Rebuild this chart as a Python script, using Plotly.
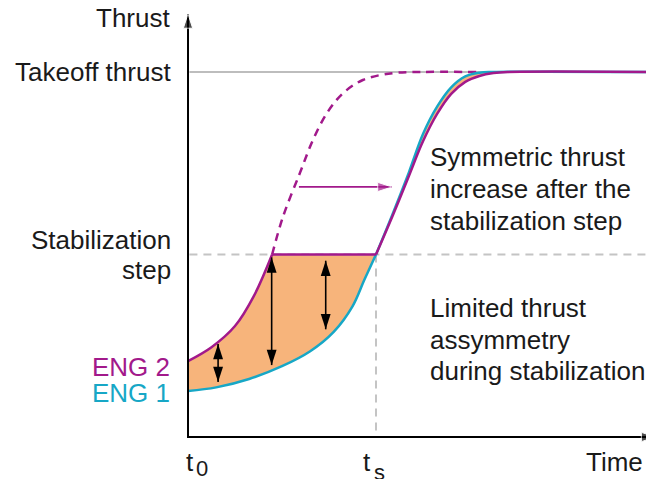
import plotly.graph_objects as go

# time axis: t0 = 0, ts = 4 ; thrust axis: takeoff = 100 %
T_S = 4.0
T_END = 9.9
TAKEOFF = 100
STAB = 50

# ENG 2 (magenta) up to the stabilization step
eng2_low_t = [0.0, 0.5, 1.0, 1.4, 1.79]
eng2_low_y = [20.8, 24.6, 30.4, 38.6, 50.0]
# ENG 1 (cyan) up to ts
eng1_low_t = [0.0, 0.6, 1.3, 2.0, 2.6, 3.1, 3.5, 3.75, 4.0]
eng1_low_y = [12.6, 13.6, 15.9, 19.4, 23.5, 28.8, 35.8, 43.0, 50.0]
# after ts
eng1_up_t = [4.0, 4.35, 4.7, 5.0, 5.3, 5.6, 5.9, 6.2, 6.5, 9.9]
eng1_up_y = [50.0, 61.0, 72.5, 83.0, 90.5, 95.8, 98.8, 99.8, 100.0, 100.0]
eng2_up_t = [4.0, 4.35, 4.7, 5.0, 5.3, 5.6, 5.9, 6.2, 6.5, 6.8, 9.9]
eng2_up_y = [50.0, 60.5, 71.5, 81.0, 88.5, 94.0, 97.3, 98.9, 99.7, 100.0, 100.0]
# ENG 2 without stabilization step (dashed)
nostab_t = [1.79, 2.02, 2.38, 2.66, 2.96, 3.3, 3.72, 4.36, 4.94, 6.2]
nostab_y = [50.0, 60.3, 72.3, 81.4, 88.8, 94.2, 97.8, 99.7, 100.0, 100.0]

# double arrows: time, top, bottom
gap_t = [0.64, 1.78, 2.93]
gap_top = [25.5, 49.2, 48.3]
gap_bottom = [15.1, 19.7, 29.5]

# shift arrow
shift_t = [2.36, 4.34]
shift_y = 68.5

MAGENTA = "#a2198b"
CYAN = "#17a7c6"
ORANGE = "#f7b47b"
GREY = "#c4c4c4"
FONT = "Liberation Sans, Arial, sans-serif"

fig = go.Figure()

# fills
fig.add_trace(go.Scatter(x=eng1_low_t, y=eng1_low_y, mode="lines",
                         line={"width": 0, "shape": "spline"}, hoverinfo="skip"))
fig.add_trace(go.Scatter(x=eng2_low_t, y=eng2_low_y, mode="lines", fill="tonexty",
                         fillcolor=ORANGE, line={"width": 0, "shape": "spline"},
                         hoverinfo="skip"))
fig.add_trace(go.Scatter(x=eng2_up_t, y=eng2_up_y, mode="lines",
                         line={"width": 0, "shape": "spline"}, hoverinfo="skip"))
fig.add_trace(go.Scatter(x=eng1_up_t, y=eng1_up_y, mode="lines", fill="tonexty",
                         fillcolor=ORANGE, line={"width": 0, "shape": "spline"},
                         hoverinfo="skip"))

# guide lines
fig.add_trace(go.Scatter(x=[0.03, T_END], y=[TAKEOFF, TAKEOFF], mode="lines",
                         line={"color": "#bdbdbd", "width": 2}))
fig.add_trace(go.Scatter(x=[0.03, T_END], y=[STAB, STAB], mode="lines",
                         line={"color": GREY, "width": 2, "dash": "8px,6px"}))
fig.add_trace(go.Scatter(x=[T_S, T_S], y=[STAB, 0], mode="lines",
                         line={"color": GREY, "width": 2, "dash": "8px,6px"}))

# dashed ENG 2 without step
fig.add_trace(go.Scatter(x=nostab_t, y=nostab_y, mode="lines",
                         line={"color": MAGENTA, "width": 2.5, "dash": "8px,6px",
                               "shape": "spline"}))

# curves
fig.add_trace(go.Scatter(x=eng1_low_t, y=eng1_low_y, mode="lines",
                         line={"color": CYAN, "width": 2.5, "shape": "spline"}))
fig.add_trace(go.Scatter(x=eng1_up_t, y=eng1_up_y, mode="lines",
                         line={"color": CYAN, "width": 2.5, "shape": "spline"}))
fig.add_trace(go.Scatter(x=eng2_low_t, y=eng2_low_y, mode="lines",
                         line={"color": MAGENTA, "width": 2.5, "shape": "spline"}))
fig.add_trace(go.Scatter(x=[eng2_low_t[-1], T_S], y=[STAB, STAB], mode="lines",
                         line={"color": MAGENTA, "width": 2.5}))
fig.add_trace(go.Scatter(x=eng2_up_t, y=eng2_up_y, mode="lines",
                         line={"color": MAGENTA, "width": 2.5, "shape": "spline"}))

# double arrows
for t, top, bottom in zip(gap_t, gap_top, gap_bottom):
    fig.add_trace(go.Scatter(
        x=[t, t], y=[bottom, top], mode="lines+markers",
        line={"color": "black", "width": 1.6},
        marker={"symbol": "arrow", "size": 16, "angle": [180, 0], "color": "black"},
    ))

# shift arrow
fig.add_trace(go.Scatter(
    x=shift_t, y=[shift_y, shift_y], mode="lines+markers",
    line={"color": MAGENTA, "width": 1.8},
    marker={"symbol": "arrow", "size": [0, 15], "angle": [90, 90], "color": MAGENTA},
))

# axes
fig.add_trace(go.Scatter(
    x=[0, 0], y=[-0.3, 115.9], mode="lines+markers",
    line={"color": "black", "width": 2},
    marker={"symbol": "arrow", "size": [0, 15], "angle": [0, 0], "color": "black"},
))
fig.add_trace(go.Scatter(
    x=[-0.02, 9.95], y=[0, 0], mode="lines+markers",
    line={"color": "black", "width": 2},
    marker={"symbol": "arrow", "size": [0, 15], "angle": [90, 90], "color": "black"},
))

txt = {"family": FONT, "size": 26, "color": "#1a1a1a"}
sub = {"family": FONT, "size": 22, "color": "#1a1a1a"}
notes = [
    ("Thrust", -0.34, 114.8, "right", txt),
    ("Takeoff thrust", -0.32, TAKEOFF, "right", txt),
    ("Stabilization", -0.32, 54.0, "right", txt),
    ("step", -0.32, 45.8, "right", txt),
    ("ENG 2", -0.34, 19.2, "right", {**txt, "color": MAGENTA}),
    ("ENG 1", -0.34, 12.1, "right", {**txt, "color": CYAN}),
    ("Symmetric thrust", 5.11, 76.7, "left", txt),
    ("increase after the", 5.11, 67.9, "left", txt),
    ("stabilization step", 5.11, 59.2, "left", txt),
    ("Limited thrust", 5.11, 35.3, "left", txt),
    ("assymmetry", 5.11, 26.6, "left", txt),
    ("during stabilization", 5.11, 18.1, "left", txt),
    ("t", 0.04, -6.8, "center", txt),
    ("0", 0.29, -8.5, "center", sub),
    ("t", 3.81, -6.8, "center", txt),
    ("s", 4.07, -9.6, "center", sub),
    ("Time", 9.72, -6.8, "right", txt),
]
for text, x, y, anchor, font in notes:
    fig.add_annotation(x=x, y=y, text=text, showarrow=False, xanchor=anchor,
                       yanchor="middle", font=font)

# the page body adds an 8 px margin, so the figure is 8 px smaller
fig.update_layout(
    width=646, height=471, autosize=False,
    margin={"l": 0, "r": 0, "t": 0, "b": 0},
    paper_bgcolor="white", plot_bgcolor="white",
    showlegend=False,
    xaxis={"range": [-3.83, 9.915], "visible": False},
    yaxis={"range": [-11.507, 117.53], "visible": False},
)
fig.write_html("out.html")
